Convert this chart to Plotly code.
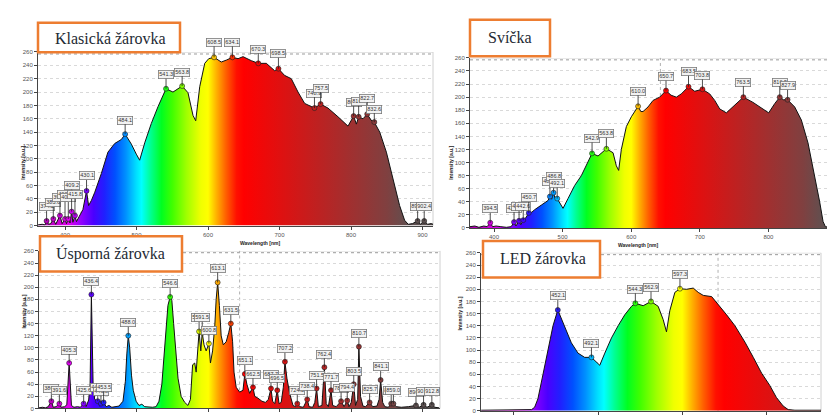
import plotly.graph_objects as go

W, H = 835, 415

# ---------------- data: wavelength [nm] / intensity [a.u.] ----------------
# Klasická žárovka
klas_nm = [362, 368, 372, 374.2, 377, 380, 383.6, 387, 392.9, 396, 400, 402, 404.6, 407, 409.2, 411,
           413.9, 416, 420, 425, 430.1, 433, 437, 441.6, 450.8, 460, 469.5, 478.8, 484.1, 492.8, 499.7,
           504.4, 511.5, 520.7, 530, 541.3, 551, 563.8, 572, 579, 582.8, 588.4, 595.4, 601, 608.5,
           618.6, 626, 634.1, 642, 649, 660.6, 670.3, 681.6, 693.2, 698.5, 707, 716.5, 725.9, 735.2,
           748.9, 757.5, 767.8, 781.8, 795.8, 803.7, 807.5, 810.7, 816.8, 822.7, 828, 832.6, 840.2,
           849.5, 858.8, 868, 875, 880, 886, 893.2, 897, 902.4, 907, 912, 915]
klas_val = [1, 2, 1, 7, 2, 3, 10, 2, 15, 3, 10, 3, 10, 4, 21, 5,
            15, 6, 14, 24, 52, 30, 38, 50, 78, 110, 123, 129, 137, 122, 107,
            98, 124, 153, 178, 205, 200, 209, 199, 165, 157, 208, 243, 250, 252,
            245, 248, 252, 250, 253, 247, 243, 243, 232, 235, 225, 220, 200, 183,
            176, 182, 176, 163, 149, 164, 152, 163, 160, 167, 158, 155, 140,
            110, 70, 30, 8, 2, 3, 7, 2, 7, 2, 3, 2]
klas_pk_nm = [374.2, 383.6, 392.9, 400.0, 404.6, 409.2, 413.9, 430.1, 484.1, 541.3, 563.8, 608.5,
              634.1, 670.3, 698.5, 748.9, 757.5, 803.7, 810.7, 822.7, 832.6, 893.2, 902.4]
klas_pk_val = [7, 10, 15, 10, 10, 21, 15, 52, 137, 205, 209, 252,
               252, 243, 235, 176, 182, 164, 163, 167, 155, 7, 7]
klas_pk_txt = ["374.2", "383.6", "392.9", "400.0", "404.6", "409.2", "415.8", "430.1", "484.1",
               "541.3", "563.8", "608.5", "634.1", "670.3", "698.5", "748.9", "757.5", "803.7",
               "810.7", "822.7", "832.6", "893.2", "902.4"]

# Svíčka
svic_nm = [365, 372, 378, 385, 390, 394.5, 398, 403, 410, 418, 425, 429.2, 432, 436.5, 439, 442.6,
           446, 450.7, 455, 459.3, 469, 478.7, 481.5, 484, 486.8, 489, 492.1, 496, 500.6, 507.9,
           517.6, 527.3, 537, 542.9, 551.6, 563.8, 573.5, 578.3, 581.7, 585.6, 592.9, 600.2, 610,
           614, 617.2, 624.5, 631.8, 641.5, 650.7, 658, 665.8, 673, 683.5, 692.5, 703.8, 714.4,
           721.7, 729, 738.7, 750.9, 763.5, 777.5, 789.7, 800.4, 809.1, 816.5, 822, 827.9, 838.3,
           848, 857.7, 867.4, 874.7, 879.6, 883, 890, 896.6, 902, 907.1, 909]
svic_val = [2, 3, 1, 3, 2, 8, 2, 3, 2, 1, 2, 9, 3, 11, 5, 12,
            15, 23, 24, 28, 35, 42, 48, 44, 54, 45, 45, 38, 30, 45,
            65, 80, 100, 114, 110, 121, 115, 95, 88, 120, 155, 170, 186,
            178, 178, 185, 195, 200, 210, 203, 200, 205, 216, 209, 212, 205,
            195, 182, 176, 188, 200, 192, 183, 176, 190, 200, 196, 196, 185,
            165, 130, 80, 40, 10, 2, 1, 3, 2, 8, 3]
svic_pk_nm = [394.5, 429.2, 436.5, 442.6, 450.7, 481.5, 486.8, 492.1, 542.9, 563.8, 610.0, 650.7,
              683.5, 703.8, 763.5, 816.5, 827.9, 907.1]
svic_pk_val = [8, 9, 11, 12, 23, 48, 54, 45, 114, 121, 186, 210, 216, 212, 200, 200, 196, 8]
svic_pk_txt = ["394.5", "429.2", "436.5", "442.6", "450.7", "481.5", "486.8", "492.1", "542.9",
               "563.8", "610.0", "650.7", "683.5", "703.8", "763.5", "816.5", "827.9", "907.1"]

# Úsporná žárovka
uspo_nm = [363, 368, 372, 376, 380.4, 383, 387, 391.6, 394, 399, 402, 405.3, 408.5, 412, 417, 421,
           425.6, 429, 432.6, 434.6, 436.4, 438.8, 441, 445.3, 448, 451, 453.5, 457, 461, 465, 470,
           475, 480.6, 484, 486, 488, 490, 492.5, 495, 499, 503, 507, 511, 516, 522, 527, 531, 535,
           538, 541, 543.5, 546.6, 549, 551.5, 554, 557.6, 562, 567, 571.5, 575, 578, 581, 583,
           585, 587.1, 589.5, 591.5, 594, 597, 600.8, 603, 606, 609, 611, 613.1, 615.5, 618, 621,
           625, 628.5, 631.5, 634, 636, 639, 643.8, 648.5, 651.1, 654, 657.8, 662.5, 665, 669.5,
           675, 680, 684, 687.7, 690, 693, 696.5, 699, 702, 705, 707.2, 710, 713.8, 718.5, 722,
           724.5, 728, 733, 738.4, 741, 746, 749, 751.5, 754, 759, 762.4, 765, 768, 771.7, 774,
           779, 785.8, 790, 794.4, 797, 800, 803.5, 806, 809, 810.7, 813, 816.4, 820, 825.7, 830,
           836, 839, 841.1, 844, 847, 852, 855.9, 859, 863, 870, 880, 890.6, 895, 901.2, 906,
           912.8, 917, 923]
uspo_val = [1, 2, 1, 3, 12, 2, 3, 8, 2, 3, 6, 75, 5, 2, 3, 2,
            8, 3, 14, 40, 188, 40, 15, 12, 4, 8, 10, 3, 5, 2, 3,
            4, 12, 45, 90, 120, 100, 55, 30, 12, 5, 7, 3, 2, 2, 3, 12, 40,
            90, 140, 170, 184, 178, 140, 100, 50, 20, 10, 5, 15, 72, 75, 60,
            95, 127, 95, 125, 105, 95, 107, 75, 95, 135, 180, 208, 170, 120, 105,
            110, 125, 140, 110, 60, 35, 27, 30, 57, 40, 25, 35, 20, 17,
            12, 10, 15, 33, 12, 8, 30, 8, 10, 35, 77, 50, 25, 5, 3,
            8, 3, 2, 15, 3, 2, 10, 33, 3, 5, 68, 8, 3, 30, 5,
            3, 12, 3, 13, 3, 10, 40, 5, 15, 102, 20, 4, 3, 10, 3,
            4, 15, 47, 10, 3, 2, 8, 8, 3, 2, 3, 5, 2, 6, 2,
            6, 2, 1]
uspo_pk_nm = [380.4, 391.6, 405.3, 425.6, 436.4, 445.3, 449.8, 453.5, 488.0, 546.6, 587.1, 591.5,
              600.8, 613.1, 631.5, 651.1, 662.5, 687.7, 696.5, 707.2, 724.5, 738.4, 751.5, 762.4,
              771.7, 785.8, 794.4, 803.5, 810.7, 825.7, 841.1, 855.9, 859.0, 890.6, 901.2, 912.8]
uspo_pk_val = [12, 8, 75, 8, 188, 12, 8, 10, 120, 184, 127, 125,
               107, 208, 140, 57, 35, 33, 30, 77, 8, 15, 33, 68,
               30, 12, 13, 40, 102, 10, 47, 8, 8, 5, 6, 6]
uspo_pk_txt = ["380.4", "391.6", "405.3", "425.6", "436.4", "445.3", "449.8", "453.5", "488.0",
               "546.6", "587.1", "591.5", "600.8", "613.1", "631.5", "651.1", "662.5", "687.7",
               "696.5", "707.2", "724.5", "738.4", "751.5", "762.4", "771.7", "785.8", "794.4",
               "803.5", "810.7", "825.7", "841.1", "855.9", "859.0", "890.6", "901.2", "912.8"]

# LED žárovka
led_nm = [361, 380, 400, 416.6, 421, 424.6, 428.5, 434.5, 440.4, 446.4, 452.1, 460.3, 468.2, 476.1,
          484, 492.1, 498, 502, 508, 515.9, 523.8, 531.7, 539.7, 544.3, 553.6, 562.9, 571.4, 577.4,
          581.3, 585.3, 591.3, 597.3, 605.2, 613.1, 619, 625, 635, 642.9, 652.8, 662.7, 674.6,
          684.5, 694.4, 704, 712, 720, 726, 734, 745, 755, 765]
led_val = [1, 1, 1, 1, 2, 6, 20, 60, 100, 140, 166, 140, 112, 95,
           88, 88, 80, 75, 95, 120, 140, 158, 172, 177, 173, 180, 172, 150,
           130, 165, 195, 201, 200, 202, 195, 190, 188, 175, 158, 140, 113,
           88, 62, 42, 22, 8, 2, 1, 1, 1, 1]
led_pk_nm = [452.1, 492.1, 544.3, 562.9, 597.3]
led_pk_val = [166, 88, 177, 180, 201]
led_pk_txt = ["452.1", "492.1", "544.3", "562.9", "597.3"]

y_ticks = list(range(0, 261, 20))
x_ticks = [400, 500, 600, 700, 800, 900]
titles = ["Klasická žárovka", "Svíčka", "Úsporná žárovka", "LED žárovka"]

# ---------------- styles ----------------
SPEC = [(360, '#a000a0'), (405, '#e000f0'), (425, '#8800ff'), (440, '#4a00ff'), (455, '#2020ff'),
        (470, '#0050ff'), (485, '#0090ff'), (500, '#00e0ff'), (507, '#00ffff'), (520, '#00ff90'),
        (535, '#00ff20'), (550, '#40ff00'), (570, '#a0ff00'), (590, '#f0ff00'), (600, '#ffff00'),
        (612, '#ffb000'), (625, '#ff6000'), (640, '#ff1000'), (650, '#ff0000'), (700, '#e01010'),
        (750, '#c02020'), (800, '#a03030'), (850, '#804040'), (880, '#605050'), (925, '#585050')]
LO, HI = SPEC[0][0], SPEC[-1][0]
colorscale = [[(w - LO) / (HI - LO), c] for w, c in SPEC]


def h2r(h):
    h = h.lstrip('#')
    return [int(h[i:i + 2], 16) for i in (0, 2, 4)]


def wl_color(nm):
    for (w0, c0), (w1, c1) in zip(SPEC[:-1], SPEC[1:]):
        if w0 <= nm <= w1:
            t = (nm - w0) / (w1 - w0)
            a, b = h2r(c0), h2r(c1)
            return 'rgb(%d,%d,%d)' % tuple(round(a[k] + (b[k] - a[k]) * t) for k in range(3))
    return SPEC[-1][1]


def px_dom(a, b, n):
    return [a / n, b / n]


panels = [
    dict(nm=klas_nm, val=klas_val, pk=(klas_pk_nm, klas_pk_val, klas_pk_txt),
         xdom=[30 / W, 425 / W], ydom=[1 - 218.3 / H, 1 - 41.7 / H], xr=[362.2, 914.7],
         box=(30, 12, 172, 42), txt=(45, 28), cursor=None,
         ay=[-14, -16, -18, -24, -21, -26, -21, -15, -14, -14, -14, -15, -15, -14, -15, -15, -16,
             -14, -15, -16, -13, -14, -14],
         ytitle=(10, 135), xtitle=(230, 236)),
    dict(nm=svic_nm, val=svic_val, pk=(svic_pk_nm, svic_pk_val, svic_pk_txt),
         xdom=[462 / W, 1.0], ydom=[1 - 220.7 / H, 1 - 47.7 / H], xr=[365.0, 908.7],
         box=(462, 9, 542, 46), txt=(478, 27), cursor=642.5,
         ay=[-14, -14, -14, -14, -15, -15, -16, -15, -15, -15, -15, -14, -15, -14, -15, -15, -14, -14],
         ytitle=(443, 135), xtitle=(652, 238)),
    dict(nm=uspo_nm, val=uspo_val, pk=(uspo_pk_nm, uspo_pk_val, uspo_pk_txt),
         xdom=[31 / W, 432 / W], ydom=[1 - 404.3 / H, 1 - 244 / H], xr=[363.1, 924.2],
         box=(32, 229, 174, 265), txt=(46, 247), cursor=643.8,
         ay=[-13, -13, -13, -13, -13, -14, -12, -15, -13, -13, -14, -15, -13, -14, -13, -13, -13,
             -14, -12, -13, -13, -13, -13, -13, -13, -13, -13, -13, -13, -13, -13, -13, -13,
             -13, -13, -13],
         ytitle=(11, 325), xtitle=None),
    dict(nm=led_nm, val=led_val, pk=(led_pk_nm, led_pk_val, led_pk_txt),
         xdom=[473 / W, 813 / W], ydom=[1 - 406.7 / H, 1 - 246 / H], xr=[360.8, 765.0],
         box=(475, 234, 592, 271), txt=(490, 252), cursor=642.6,
         ay=[-14, -14, -14, -14, -14],
         ytitle=(452, 327), xtitle=None),
]

fig = go.Figure()
shapes, annotations = [], []
tick_font = dict(family="Liberation Sans, Arial", size=6, color="#555555")

for i, p in enumerate(panels, start=1):
    xa = 'x' if i == 1 else 'x%d' % i
    ya = 'y' if i == 1 else 'y%d' % i
    fig.add_trace(go.Scatter(
        x=p['nm'], y=p['val'], xaxis=xa, yaxis=ya, mode='lines',
        line=dict(color='#111111', width=1), fill='tozeroy',
        fillgradient=dict(type='horizontal', colorscale=colorscale, start=LO, stop=HI),
        hoverinfo='skip', showlegend=False))
    pk_nm, pk_val, pk_txt = p['pk']
    fig.add_trace(go.Scatter(
        x=pk_nm, y=pk_val, xaxis=xa, yaxis=ya, mode='markers',
        marker=dict(size=5, color=[wl_color(v) for v in pk_nm], line=dict(color='#222222', width=0.6)),
        hoverinfo='skip', showlegend=False))
    for xv, yv, t, ay in zip(pk_nm, pk_val, pk_txt, p['ay']):
        annotations.append(dict(
            x=xv, y=yv, xref=xa, yref=ya, text=t, showarrow=True, arrowhead=0, arrowwidth=0.8,
            arrowcolor='#222222', ax=0, ay=ay, standoff=0,
            font=dict(family="Liberation Sans, Arial", size=5.5, color='#333333'),
            bgcolor='#f2f2f2', bordercolor='#7a7a7a', borderwidth=0.8, borderpad=0.5))
    axis_key = 'xaxis' if i == 1 else 'xaxis%d' % i
    yaxis_key = 'yaxis' if i == 1 else 'yaxis%d' % i
    fig.update_layout(**{
        axis_key: dict(domain=p['xdom'], range=p['xr'], anchor=ya, tickvals=x_ticks,
                       ticks='outside', ticklen=3, tickcolor='#444', showline=True,
                       linecolor='#444', linewidth=1, showgrid=False, zeroline=False,
                       tickfont=tick_font, fixedrange=True),
        yaxis_key: dict(domain=p['ydom'], range=[0, 260], anchor=xa, tickvals=y_ticks,
                        ticks='outside', ticklen=3, tickcolor='#444', showline=True,
                        linecolor='#444', linewidth=1, showgrid=True, gridcolor='#d9d9d9',
                        griddash='dot', gridwidth=1, zeroline=False, tickfont=tick_font,
                        fixedrange=True),
    })
    # frame top / right, maximum dashed line, cursor line
    shapes.append(dict(type='line', xref=xa + ' domain', yref=ya, x0=0, x1=1, y0=260, y1=260,
                       line=dict(color='#c8c8c8', width=1), layer='below'))
    shapes.append(dict(type='line', xref=xa + ' domain', yref=ya + ' domain', x0=1, x1=1, y0=0, y1=1,
                       line=dict(color='#d0d0d0', width=1), layer='below'))
    shapes.append(dict(type='line', xref=xa + ' domain', yref=ya, x0=0, x1=1, y0=257, y1=257,
                       line=dict(color='#9a9a9a', width=1, dash='dot'), layer='below'))
    if p['cursor']:
        shapes.append(dict(type='line', xref=xa, yref=ya + ' domain', x0=p['cursor'], x1=p['cursor'],
                           y0=0, y1=1, line=dict(color='#b0b0b0', width=1, dash='dot'), layer='below'))
    # axis titles
    tx, ty = p['ytitle']
    annotations.append(dict(x=tx / W, y=1 - ty / H, xref='paper', yref='paper', text='<b>Intensity [a.u.]</b>',
                            textangle=-90, showarrow=False,
                            font=dict(family="Liberation Sans, Arial", size=5, color='#222')))
    if p['xtitle']:
        tx, ty = p['xtitle']
        annotations.append(dict(x=tx / W, y=1 - ty / H, xref='paper', yref='paper', text='<b>Wavelength [nm]</b>',
                                showarrow=False,
                                font=dict(family="Liberation Sans, Arial", size=5, color='#222')))
    # title box
    bx0, by0, bx1, by1 = p['box']
    shapes.append(dict(type='rect', xref='paper', yref='paper', x0=bx0 / W, x1=bx1 / W,
                       y0=1 - by1 / H, y1=1 - by0 / H, line=dict(color='#ED7D31', width=2.5),
                       fillcolor='white', layer='above'))
    tx, ty = p['txt']
    annotations.append(dict(x=tx / W, y=1 - ty / H, xref='paper', yref='paper', text=titles[i - 1],
                            showarrow=False, xanchor='left', yanchor='middle',
                            font=dict(family="Liberation Serif, Times New Roman, serif", size=16,
                                      color='#1e2a33')))

fig.update_layout(width=W, height=H, margin=dict(l=0, r=0, t=0, b=0),
                  paper_bgcolor='white', plot_bgcolor='rgba(0,0,0,0)',
                  shapes=shapes, annotations=annotations, showlegend=False)

fig.write_html("out.html")
